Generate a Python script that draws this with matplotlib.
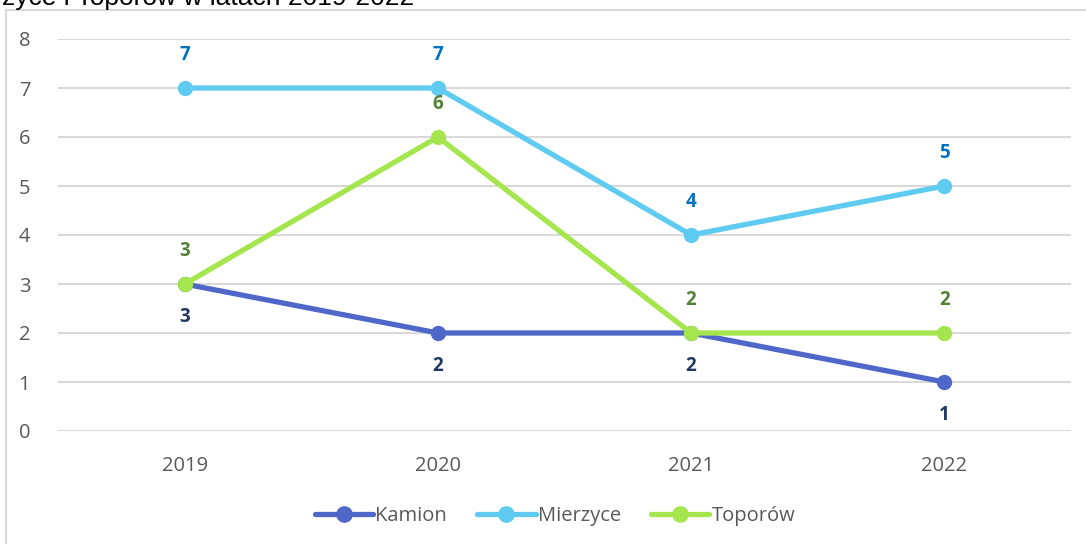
import matplotlib.pyplot as plt
from matplotlib.lines import Line2D
from matplotlib.patches import Rectangle

years = ["2019", "2020", "2021", "2022"]
kamion = [3, 2, 2, 1]
mierzyce = [7, 7, 4, 5]
toporow = [3, 6, 2, 2]

series = [
    ("Kamion", kamion, "#4E67C8", "#203864", "below"),
    ("Mierzyce", mierzyce, "#5FCBF1", "#0070C0", "above"),
    ("Toporów", toporow, "#A5E64F", "#538135", "above"),
]

plt.rcParams['font.family'] = ['Open Sans', 'DejaVu Sans']

fig = plt.figure(figsize=(10.86, 5.44), dpi=100)
W, H = 1086, 544

# outer chart frame (runs past right/bottom edges)
fig.patches.append(Rectangle((6 / W, -0.1), 1.2, 1 - 10 / H + 0.1, transform=fig.transFigure,
                             fill=False, edgecolor="#D9D9D9", linewidth=1.5))

# title, clipped at the top edge as in the source
fig.text(2 / W, 1 - 5 / H, "zyce i Toporów w latach 2019-2022", family=['Liberation Sans'],
         fontsize=19, color="black", ha="left", va="baseline")

ax = fig.add_axes([58 / W, 1 - 431 / H, (1071 - 58) / W, 392 / H])
x = range(len(years))

for name, vals, col, lblcol, pos in series:
    ax.plot(x, vals, color=col, linewidth=3.8, marker="o", markersize=10,
            solid_capstyle="round", clip_on=False, zorder=3, label=name)
    for xi, v in zip(x, vals):
        dy = -24 if pos == "below" else 23.5
        ax.annotate(str(v), (xi, v), xytext=(0, dy), textcoords="offset points",
                    ha="center", va="center", fontsize=13.5, fontweight="bold", color=lblcol)

ax.set_xlim(-0.5, 3.5)
ax.set_ylim(0, 8)
ax.set_yticks(range(0, 9))
ax.set_xticks(list(x))
ax.set_xticklabels(years)
ax.grid(axis="y", color="#D9D9D9", linewidth=1.5)
ax.set_axisbelow(True)
for s in ax.spines.values():
    s.set_visible(False)
ax.tick_params(axis="both", length=0, labelsize=14.5, colors="#595959")
ax.tick_params(axis="y", pad=20)
ax.tick_params(axis="x", pad=18)

handles = [Line2D([0], [0], color=c, linewidth=3.8, marker="o", markersize=11,
                  solid_capstyle="round") for _, _, c, _, _ in series]
leg = fig.legend(handles, [s[0] for s in series], loc="center", bbox_to_anchor=(555 / W, 1 - 516 / H),
                 ncol=3, frameon=False, fontsize=14.5, handlelength=2.9, handletextpad=0.1,
                 columnspacing=1.5)
for t in leg.get_texts():
    t.set_color("#595959")

fig.savefig("out.png", dpi=100)
